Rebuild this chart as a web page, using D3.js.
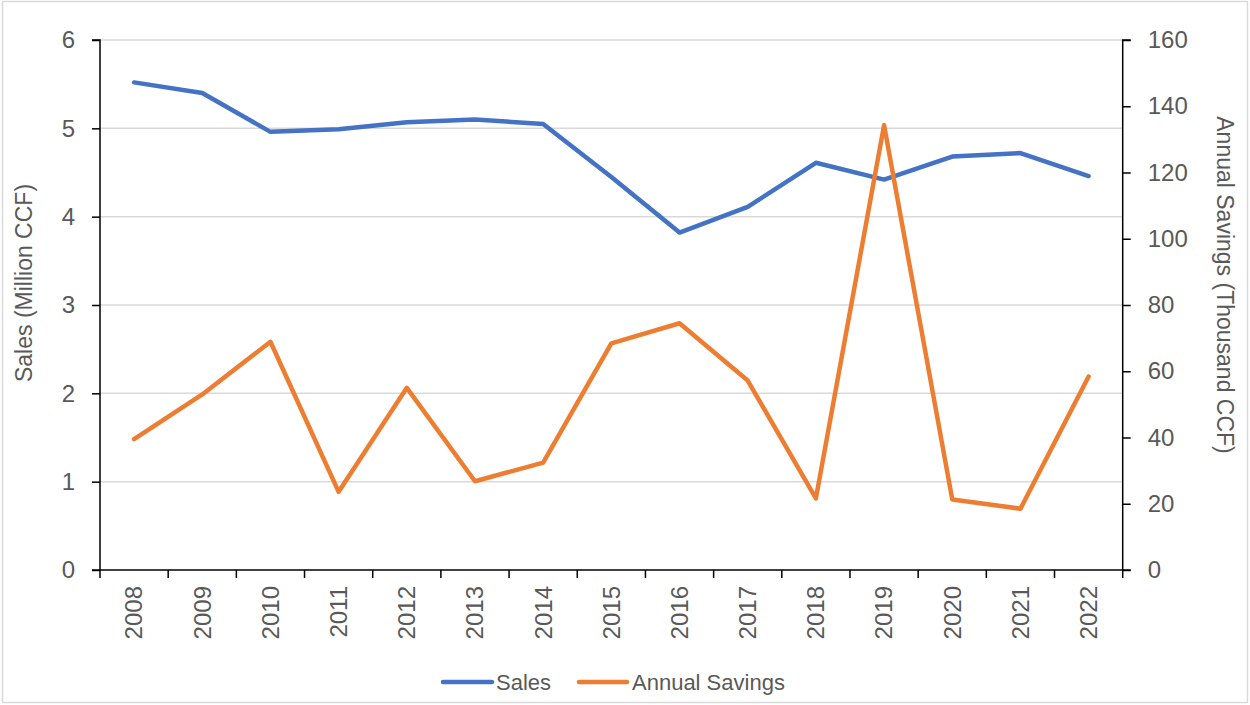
<!DOCTYPE html>
<html>
<head>
<meta charset="utf-8">
<script src="https://cdn.jsdelivr.net/npm/d3@7"></script>
<style>
  html, body { margin: 0; padding: 0; background: #fff; }
  svg { display: block; font-family: "Liberation Sans", Arial, sans-serif; }
</style>
</head>
<body>
<svg id="chart" width="1250" height="705"></svg>
<script>
const years = ["2008","2009","2010","2011","2012","2013","2014","2015","2016","2017","2018","2019","2020","2021","2022"];
const sales = [5.52, 5.40, 4.96, 4.99, 5.07, 5.10, 5.05, 4.45, 3.82, 4.11, 4.61, 4.42, 4.68, 4.72, 4.46];
const savings = [39.5, 53.0, 68.9, 23.6, 55.0, 26.8, 32.4, 68.4, 74.5, 57.2, 21.6, 134.3, 21.3, 18.5, 58.4];
const leftTicks = [0, 1, 2, 3, 4, 5, 6];
const rightTicks = [0, 20, 40, 60, 80, 100, 120, 140, 160];
const leftTitle = "Sales (Million CCF)";
const rightTitle = "Annual Savings (Thousand CCF)";
const seriesNames = ["Sales", "Annual Savings"];
const colors = ["#4472C4", "#ED7D31"];

(function () {
const svg = d3.select("#chart");
const pL = 100, pR = 1122.7, pT = 40, pB = 570;
const textColor = "#595959";

svg.append("rect").attr("x", 2.5).attr("y", 1.5).attr("width", 1245).attr("height", 701)
  .attr("fill", "#fff").attr("stroke", "#d9d9d9").attr("stroke-width", 1.5);

const x = d3.scaleBand().domain(years).range([pL, pR]);
const yL = d3.scaleLinear().domain([0, 6]).range([pB, pT]);
const yR = d3.scaleLinear().domain([0, 160]).range([pB, pT]);

// gridlines
svg.append("g").selectAll("line").data(leftTicks.filter(d => d > 0)).join("line")
  .attr("x1", pL).attr("x2", pR)
  .attr("y1", d => yL(d)).attr("y2", d => yL(d))
  .attr("stroke", "#d9d9d9").attr("stroke-width", 1.5);

// left axis
const gL = svg.append("g").attr("transform", `translate(${pL},0)`)
  .call(d3.axisLeft(yL).tickValues(leftTicks).tickSize(8).tickPadding(17).tickFormat(d3.format("d")));
// right axis
const gR = svg.append("g").attr("transform", `translate(${pR},0)`)
  .call(d3.axisRight(yR).tickValues(rightTicks).tickSize(8).tickPadding(17).tickFormat(d3.format("d")));
// bottom axis with ticks at band boundaries
const gB = svg.append("g").attr("transform", `translate(0,${pB})`);
gB.append("line").attr("x1", pL).attr("x2", pR).attr("y1", 0).attr("y2", 0)
  .attr("stroke", "#000").attr("stroke-width", 1.5);
const bounds = years.map(d => x(d)).concat([x(years[years.length - 1]) + x.bandwidth()]);
gB.selectAll("line.tk").data(bounds).join("line").attr("class", "tk")
  .attr("x1", d => d).attr("x2", d => d).attr("y1", 0).attr("y2", 8)
  .attr("stroke", "#000").attr("stroke-width", 1.5);
gB.selectAll("text").data(years).join("text")
  .attr("transform", d => `translate(${x(d) + x.bandwidth() / 2},${16}) rotate(-90)`)
  .attr("text-anchor", "end").attr("dy", "0.35em")
  .attr("fill", textColor).attr("font-size", 24).text(d => d);

[gL, gR].forEach(g => {
  g.select(".domain").attr("stroke", "#000").attr("stroke-width", 1.5);
  g.selectAll(".tick line").attr("stroke", "#000").attr("stroke-width", 1.5);
  g.selectAll(".tick text").attr("fill", textColor).attr("font-size", 24)
    .attr("font-family", "Liberation Sans, Arial, sans-serif");
});
gL.select(".domain").attr("d", `M-8,${pB}H0V${pT}H-8`);
gR.select(".domain").attr("d", `M8,${pB}H0V${pT}H8`);

// axis titles
svg.append("text").attr("transform", `translate(24,283) rotate(-90)`)
  .attr("text-anchor", "middle").attr("dy", "0.35em")
  .attr("fill", textColor).attr("font-size", 23).text(leftTitle);
svg.append("text").attr("transform", `translate(1225,285) rotate(90)`)
  .attr("text-anchor", "middle").attr("dy", "0.35em")
  .attr("fill", textColor).attr("font-size", 23).text(rightTitle);

// lines
const cx = d => x(d) + x.bandwidth() / 2;
const lineL = d3.line().x((d, i) => cx(years[i])).y(d => yL(d));
const lineR = d3.line().x((d, i) => cx(years[i])).y(d => yR(d));
svg.append("path").datum(sales).attr("d", lineL)
  .attr("fill", "none").attr("stroke", colors[0]).attr("stroke-width", 4.5)
  .attr("stroke-linejoin", "round").attr("stroke-linecap", "round");
svg.append("path").datum(savings).attr("d", lineR)
  .attr("fill", "none").attr("stroke", colors[1]).attr("stroke-width", 4.5)
  .attr("stroke-linejoin", "round").attr("stroke-linecap", "round");

// legend
const legendItems = [
  { name: seriesNames[0], color: colors[0], x1: 443, x2: 492, tx: 496 },
  { name: seriesNames[1], color: colors[1], x1: 579, x2: 627, tx: 632 }
];
const lg = svg.append("g");
legendItems.forEach(it => {
  lg.append("line").attr("x1", it.x1).attr("x2", it.x2).attr("y1", 682).attr("y2", 682)
    .attr("stroke", it.color).attr("stroke-width", 4.5).attr("stroke-linecap", "round");
  lg.append("text").attr("x", it.tx).attr("y", 690).attr("fill", textColor)
    .attr("font-size", 22).text(it.name);
});
})();
</script>
</body>
</html>
